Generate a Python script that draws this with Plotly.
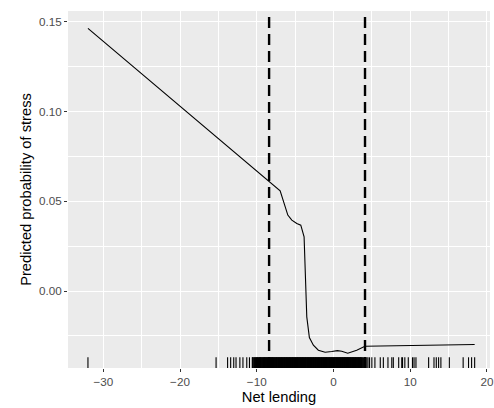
import plotly.graph_objects as go

# Fitted curve: net lending vs predicted probability of stress
curve_x = [-32.0, -6.95, -5.95, -5.43, -4.78, -4.26, -3.83, -3.70, -3.48, -3.14,
           -2.62, -1.97, -1.09, -0.22, 0.51, 1.08, 1.86, 3.03, 4.03, 4.10, 18.4]
curve_y = [0.1463, 0.0558, 0.0423, 0.0395, 0.0376, 0.0367, 0.0302, 0.0079, -0.0144, -0.0259,
           -0.0302, -0.0330, -0.0341, -0.0337, -0.0332, -0.0336, -0.0347, -0.0330, -0.0312, -0.0308, -0.0298]

# Thresholds (dashed lines)
thresholds = [-8.39, 4.11]

# Observed net lending values (rug)
rug_x = [-32.0, -15.3, -13.8, -13.4, -13.0, -12.7, -12.2, -11.8, -11.3, -10.95,
         -10.58, -10.47, -10.31, -10.22, -10.09, -9.97, -9.86, -9.71, -9.62, -9.50,
         -9.41, -9.28, -9.17, -9.05, -8.96, -8.84, -8.75, -8.63, -8.52, -8.44,
         -8.31, -8.22, -8.10, -8.01, -7.92, -7.80, -7.71, -7.59, -7.48, -7.39,
         -7.27, -7.18, -7.06, -6.97, -6.85, -6.76, -6.64, -6.55, -6.43, -6.34,
         -6.22, -6.13, -6.01, -5.92, -5.80, -5.71, -5.59, -5.50, -5.38, -5.29,
         -5.17, -5.08, -4.96, -4.87, -4.75, -4.66, -4.54, -4.45, -4.33, -4.24,
         -4.12, -4.03, -3.91, -3.82, -3.70, -3.61, -3.49, -3.40, -3.28, -3.19,
         -3.07, -2.98, -2.86, -2.77, -2.65, -2.56, -2.44, -2.35, -2.23, -2.14,
         -2.02, -1.93, -1.81, -1.72, -1.60, -1.51, -1.39, -1.30, -1.18, -1.09,
         -0.97, -0.88, -0.76, -0.67, -0.55, -0.46, -0.34, -0.25, -0.13, -0.04,
         0.08, 0.17, 0.29, 0.38, 0.50, 0.59, 0.71, 0.80, 0.92, 1.01,
         1.13, 1.22, 1.34, 1.43, 1.55, 1.64, 1.76, 1.85, 1.97, 2.06,
         2.18, 2.27, 2.39, 2.48, 2.60, 2.69, 2.81, 2.90, 3.02, 3.11,
         3.23, 3.32, 3.44, 3.53, 3.65, 3.9, 4.2, 4.5, 5.0, 5.4,
         6.1, 6.5, 7.1, 7.6, 7.8, 8.5, 8.9, 9.0, 9.3, 9.75,
         10.3, 10.5, 10.75, 12.4, 13.1, 13.4, 13.7, 14.0, 15.1, 16.9,
         17.6, 18.0, 18.4,
         -10.52, -10.36, -10.15, -10.03, -9.91, -9.78, -9.66, -9.55, -9.46, -9.34,
         -9.22, -9.11, -9.00, -8.90, -8.79, -8.69, -8.57, -8.48, -8.37, -8.27,
         -8.16, -8.05, -7.96, -7.86, -7.75, -7.65, -7.53, -7.43, -7.33, -7.22,
         -7.12, -7.01, -6.91, -6.80, -6.70, -6.59, -6.49, -6.38, -6.28, -6.17,
         -6.07, -5.96, -5.86, -5.75, -5.65, -5.54, -5.44, -5.33, -5.23, -5.12,
         -5.02, -4.91, -4.81, -4.70, -4.60, -4.49, -4.39, -4.28, -4.18, -4.07,
         -3.97, -3.86, -3.76, -3.65, -3.55, -3.44, -3.34, -3.23, -3.13, -3.02,
         -2.92, -2.81, -2.71, -2.60, -2.50, -2.39, -2.29, -2.18, -2.08, -1.97,
         -1.87, -1.76, -1.66, -1.55, -1.45, -1.34, -1.24, -1.13, -1.03, -0.92,
         -0.82, -0.71, -0.61, -0.50, -0.40, -0.29, -0.19, -0.08, 0.02, 0.13,
         0.23, 0.34, 0.44, 0.55, 0.65, 0.76, 0.86, 0.97, 1.07, 1.18,
         1.28, 1.39, 1.49, 1.60, 1.70, 1.81, 1.91, 2.02, 2.12, 2.23,
         2.33, 2.44, 2.54, 2.65, 2.75, 2.86, 2.96, 3.07, 3.17, 3.28,
         3.38, 3.49, 3.59, 3.72, 3.80, 4.05, 4.35, 4.7]

x_ticks = [-30, -20, -10, 0, 10, 20]
y_ticks = [0.00, 0.05, 0.10, 0.15]
x_title = "Net lending"
y_title = "Predicted probability of stress"

FONT = "Liberation Sans, Arial, sans-serif"
RUG_LEN = 0.03

fig = go.Figure()

# rug segments (on overlay axis in panel fraction units)
rx, ry = [], []
for v in rug_x:
    rx += [v, v, None]
    ry += [0, RUG_LEN, None]
fig.add_trace(go.Scatter(x=rx, y=ry, mode="lines", yaxis="y2",
                         line=dict(color="black", width=1.1), hoverinfo="skip",
                         showlegend=False))

# thresholds
for t in thresholds:
    fig.add_trace(go.Scatter(x=[t, t], y=[0, 1], mode="lines", yaxis="y2",
                             line=dict(color="black", width=2.4, dash="11px,6px"),
                             showlegend=False, hoverinfo="skip"))

fig.add_trace(go.Scatter(x=curve_x, y=curve_y, mode="lines",
                         line=dict(color="black", width=1.1), showlegend=False))

fig.update_layout(
    template="none",
    width=494, height=408,
    margin=dict(l=68, r=4, t=11, b=40, autoexpand=False),
    paper_bgcolor="white", plot_bgcolor="#EBEBEB",
    font=dict(family=FONT),
    xaxis=dict(range=[-34.6, 20.4], tickvals=x_ticks,
               ticks="outside", ticklen=3, tickwidth=1.07, tickcolor="#333333",
               tickfont=dict(size=11.7, color="#4D4D4D"),
               showgrid=True, gridcolor="white", gridwidth=1.07,
               minor=dict(dtick=5, tick0=-35, showgrid=True, gridcolor="white", gridwidth=0.53, ticks=""),
               zeroline=False, showline=False, automargin=False,
               title=dict(text=x_title, font=dict(size=14.7, color="black"), standoff=4)),
    yaxis=dict(range=[-0.0429, 0.156], tickvals=y_ticks, tickformat=".2f",
               ticks="outside", ticklen=3, tickwidth=1.07, tickcolor="#333333",
               tickfont=dict(size=11.7, color="#4D4D4D"),
               showgrid=True, gridcolor="white", gridwidth=1.07,
               minor=dict(dtick=0.025, tick0=-0.025, showgrid=True, gridcolor="white", gridwidth=0.53, ticks=""),
               zeroline=False, showline=False, automargin=False,
               title=dict(text=y_title, font=dict(size=14.7, color="black"), standoff=3)),
    yaxis2=dict(range=[0, 1], overlaying="y", visible=False, fixedrange=True),
)

fig.write_html("out.html", config={"displayModeBar": False},
               post_script="document.body.style.margin='0px';")
